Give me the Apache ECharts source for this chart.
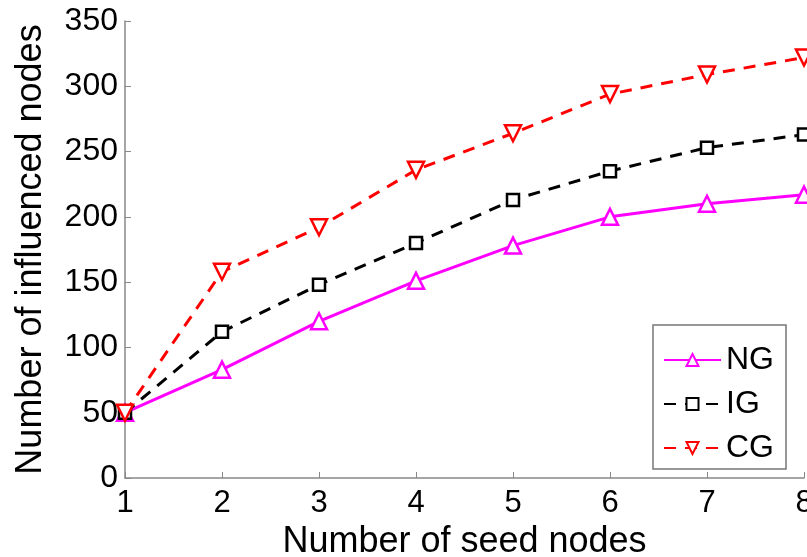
<!DOCTYPE html>
<html>
<head>
<meta charset="utf-8">
<script src="https://cdn.jsdelivr.net/npm/echarts@6/dist/echarts.min.js"></script>
<style>
  html, body { margin: 0; padding: 0; background: #fff; }
  #chart { width: 807px; height: 557px; }
</style>
</head>
<body>
<div id="chart"></div>
<script>
/* data */
const seeds = [1, 2, 3, 4, 5, 6, 7, 8];
const ngValues = [50, 83, 120, 151, 178, 200, 210, 217];
const igValues = [50, 112, 148, 180, 213, 235, 253, 263];
const cgValues = [50, 158, 192, 236, 264, 294, 309, 322];

const font = 'Liberation Sans, Arial, Helvetica, sans-serif';

function pairs(values) {
    return seeds.map((s, i) => [s, values[i]]);
}

function makeSeries(name, values, color, symbol, size, dashed, rotate) {
    return {
        name: name,
        type: 'line',
        data: pairs(values),
        symbol: symbol,
        symbolSize: size,
        symbolRotate: rotate || 0,
        showAllSymbol: true,
        lineStyle: { color: color, width: 3, type: dashed ? [12, 9] : 'solid' },
        itemStyle: { color: '#fff', borderColor: color, borderWidth: 2.5 },
        emphasis: { disabled: true },
        z: 3,
    };
}

const chart = echarts.init(document.getElementById('chart'), null, { renderer: 'canvas' });
chart.setOption({
    animation: false,
    textStyle: { fontFamily: font },
    grid: { left: 125, right: 3, top: 21, bottom: 79, outerBoundsMode: 'none', containLabel: false },
    xAxis: {
        type: 'value',
        min: 1,
        max: 8,
        interval: 1,
        name: 'Number of seed nodes',
        nameLocation: 'middle',
        nameGap: 37,
        nameTextStyle: { fontSize: 36, color: '#000', fontFamily: font },
        axisLine: { lineStyle: { color: '#888', width: 1.5 } },
        axisTick: { inside: true, length: 6, lineStyle: { color: '#888' } },
        axisLabel: { fontSize: 31, color: '#000', margin: 10, fontFamily: font },
        splitLine: { show: false },
    },
    yAxis: {
        type: 'value',
        min: 0,
        max: 350,
        interval: 50,
        name: 'Number of influenced nodes',
        nameLocation: 'middle',
        nameGap: 76,
        nameTextStyle: { fontSize: 36, color: '#000', fontFamily: font },
        axisLine: { show: true, lineStyle: { color: '#888', width: 1.5 } },
        axisTick: { show: true, inside: true, length: 6, lineStyle: { color: '#888' } },
        axisLabel: { fontSize: 32, color: '#000', margin: 7, fontFamily: font },
        splitLine: { show: false },
    },
    legend: {
        orient: 'vertical',
        left: 653,
        top: 325,
        width: 139,
        padding: [19, 12, 5, 10],
        itemGap: 12,
        itemWidth: 57,
        itemHeight: 15,
        backgroundColor: '#fff',
        borderColor: '#777',
        borderWidth: 1.5,
        textStyle: { fontSize: 32, color: '#000', fontFamily: font },
        data: ['NG', 'IG', 'CG'],
    },
    series: [
        makeSeries('NG', ngValues, '#ff00ff', 'triangle', 16, false),
        makeSeries('IG', igValues, '#000000', 'rect', 12, true),
        makeSeries('CG', cgValues, '#ff0000', 'triangle', 16, true, 180),
    ],
});
</script>
</body>
</html>
